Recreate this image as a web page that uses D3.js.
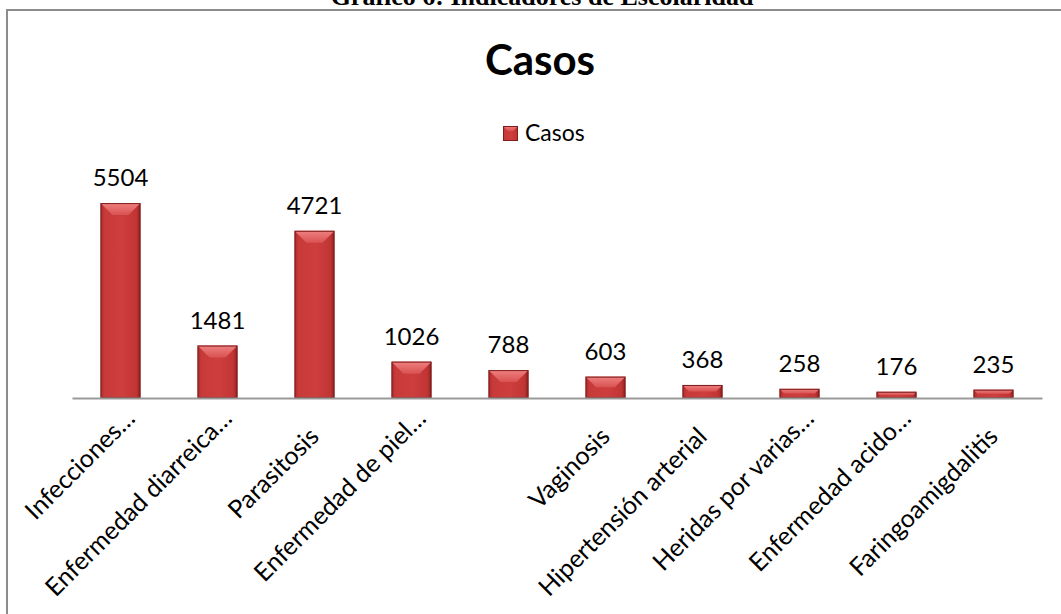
<!DOCTYPE html>
<html>
<head>
<meta charset="utf-8">
<script src="https://cdn.jsdelivr.net/npm/d3@7"></script>
<style>
  body { margin: 0; background: #fff; }
  svg { display: block; }
</style>
</head>
<body>
<script>
// chart data
var categories = ["Infecciones…", "Enfermedad diarreica…", "Parasitosis", "Enfermedad de piel…", "", "Vaginosis", "Hipertensión arterial", "Heridas por varias…", "Enfermedad acido…", "Faringoamigdalitis"];
var casos = [5504, 1481, 4721, 1026, 788, 603, 368, 258, 176, 235];
var seriesName = "Casos";
var pageTitle = "Gráfico 6: Indicadores de Escolaridad";

var width = 1061, height = 614;

var svg = d3.select("body").append("svg")
    .attr("width", width)
    .attr("height", height);

// gradients for the bevelled bars
var defs = svg.append("defs");
var body = defs.append("linearGradient").attr("id", "barBody")
    .attr("x1", "0").attr("x2", "1").attr("y1", "0").attr("y2", "0");
body.append("stop").attr("offset", "0%").attr("stop-color", "#a92b2b");
body.append("stop").attr("offset", "10%").attr("stop-color", "#c83a3a");
body.append("stop").attr("offset", "55%").attr("stop-color", "#cd3e3d");
body.append("stop").attr("offset", "90%").attr("stop-color", "#c03534");
body.append("stop").attr("offset", "100%").attr("stop-color", "#8a2020");

var topG = defs.append("linearGradient").attr("id", "barTop")
    .attr("x1", "0").attr("x2", "0").attr("y1", "0").attr("y2", "1");
topG.append("stop").attr("offset", "0%").attr("stop-color", "#ef8080");
topG.append("stop").attr("offset", "100%").attr("stop-color", "#d95252");

// page title, cut off at the top as in the source
svg.append("text")
    .attr("x", 542)
    .attr("y", 5)
    .attr("text-anchor", "middle")
    .style("font-family", "'Liberation Serif', 'Times New Roman', serif")
    .style("font-weight", "bold")
    .style("font-size", "26px")
    .text(pageTitle);

// chart frame (runs past the right and bottom edges)
svg.append("rect")
    .attr("x", 7)
    .attr("y", 10)
    .attr("width", 1200)
    .attr("height", 800)
    .attr("fill", "none")
    .attr("stroke", "#8c8c8c")
    .attr("stroke-width", 2);

// chart title
svg.append("text")
    .attr("x", 540)
    .attr("y", 75)
    .attr("text-anchor", "middle")
    .style("font-family", "Lato, 'Liberation Sans', sans-serif")
    .style("font-weight", "bold")
    .style("font-size", "42px")
    .text(seriesName);

// scales
var x = d3.scaleBand()
    .domain(d3.range(categories.length))
    .range([72, 1042])
    .paddingInner(0.588)
    .paddingOuter(0.294);

var y = d3.scaleLinear()
    .domain([0, 6000])
    .range([398, 185.5]);

// draw a bevelled block
function bevelBlock(g, bx, by, bw, bh){
    var b = Math.min(12, bh / 2, bw / 3);
    g.append("rect")
        .attr("x", bx).attr("y", by)
        .attr("width", bw).attr("height", bh)
        .attr("fill", "url(#barBody)");
    g.append("polygon")
        .attr("points", [[bx, by], [bx + bw, by], [bx + bw - b, by + b], [bx + b, by + b]].join(" "))
        .attr("fill", "url(#barTop)");
    g.append("rect")
        .attr("x", bx + 0.5).attr("y", by + 0.5)
        .attr("width", bw - 1).attr("height", Math.max(bh - 1, 0))
        .attr("fill", "none")
        .attr("stroke", "#7e1d1d")
        .attr("stroke-width", 1);
}

// bars
var bars = svg.append("g").attr("class", "bars");
casos.forEach(function(v, i){
    var g = bars.append("g").attr("class", "bar");
    bevelBlock(g, x(i), y(v), x.bandwidth(), y(0) - y(v));
});

// axis line
var axis = svg.append("g")
    .attr("transform", "translate(0," + y(0) + ")")
    .call(d3.axisBottom(x).tickSize(0).tickFormat(""));
axis.select(".domain")
    .attr("stroke", "#9a9a9a")
    .attr("stroke-width", 2);

// value labels
svg.append("g").selectAll("text")
    .data(casos)
    .enter()
    .append("text")
    .attr("x", function(d, i){ return x(i) + x.bandwidth() / 2; })
    .attr("y", function(d){ return y(d) - 17; })
    .attr("text-anchor", "middle")
    .style("font-family", "Lato, 'Liberation Sans', sans-serif")
    .style("font-size", "24px")
    .attr("fill", "#000")
    .text(function(d){ return d; });

// category labels, rotated
svg.append("g").selectAll("text")
    .data(categories)
    .enter()
    .append("text")
    .attr("transform", function(d, i){
        var cx = x(i) + x.bandwidth() / 2;
        var cut = d.slice(-1) == "…";
        var ax = cut ? cx + 16 : cx + 6,
            ay = cut ? 420 : 438;
        return "translate(" + ax + "," + ay + ") rotate(-45)";
    })
    .attr("text-anchor", "end")
    .style("font-family", "Lato, 'Liberation Sans', sans-serif")
    .style("font-size", "25px")
    .attr("fill", "#000")
    .text(function(d){ return d; });

// legend
var legend = svg.append("g").attr("class", "legend");
bevelBlock(legend, 503, 126, 15, 15);
legend.append("text")
    .attr("x", 525)
    .attr("y", 141)
    .style("font-family", "Lato, 'Liberation Sans', sans-serif")
    .style("font-size", "23px")
    .text(seriesName);
</script>
</body>
</html>
